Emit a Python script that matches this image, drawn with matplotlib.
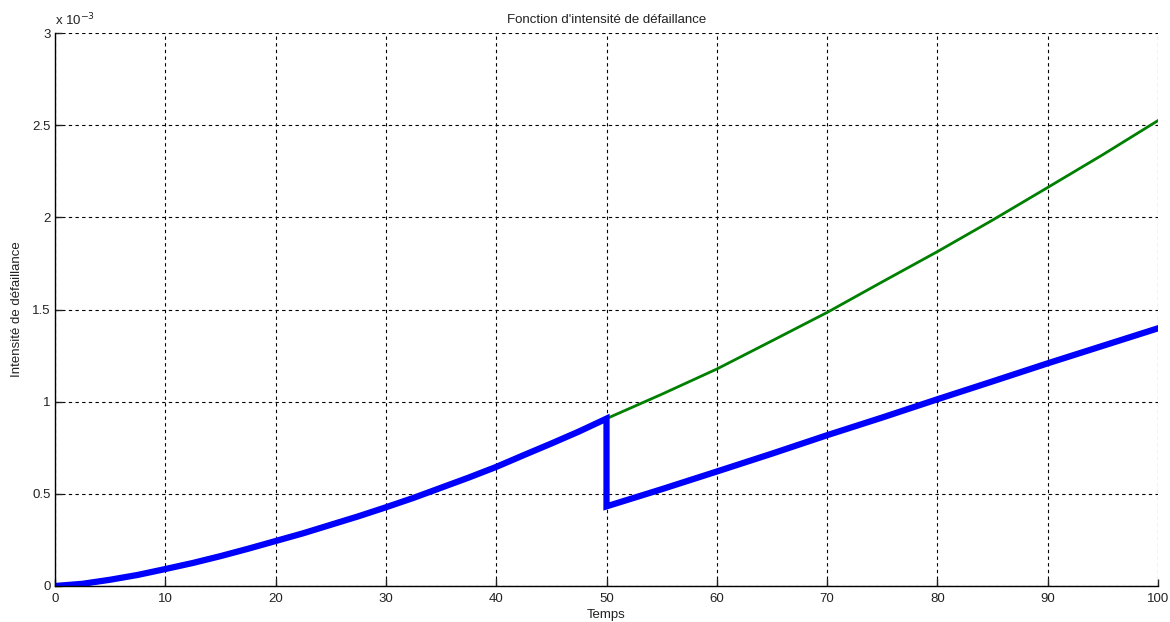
import matplotlib.pyplot as plt
from matplotlib.ticker import FuncFormatter, MultipleLocator

plt.rcParams['font.family'] = ['Liberation Sans', 'DejaVu Sans']

# intensité sans maintenance (courbe verte), en 1e-3
t_full = [0, 2.5, 5, 7.5, 10, 12.5, 15, 17.5, 20, 22.5, 25, 27.5, 30, 32.5,
          35, 37.5, 40, 42.5, 45, 47.5, 50,
          55, 60, 65, 70, 75, 80, 85, 90, 95, 100]
lam_full = [0.0, 0.012, 0.034, 0.06, 0.092, 0.125, 0.162, 0.202, 0.244, 0.286,
            0.332, 0.378, 0.427, 0.478, 0.533, 0.588, 0.646, 0.71, 0.773, 0.838, 0.908,
            1.04, 1.177, 1.33, 1.484, 1.65, 1.814, 1.985, 2.162, 2.34, 2.525]

# intensité avec maintenance à t=50 (courbe bleue)
t_maint = [0, 2.5, 5, 7.5, 10, 12.5, 15, 17.5, 20, 22.5, 25, 27.5, 30, 32.5,
           35, 37.5, 40, 42.5, 45, 47.5, 50,
           50, 55, 60, 65, 70, 75, 80, 85, 90, 95, 100]
lam_maint = [0.0, 0.012, 0.034, 0.06, 0.092, 0.125, 0.162, 0.202, 0.244, 0.286,
             0.332, 0.378, 0.427, 0.478, 0.533, 0.588, 0.646, 0.71, 0.773, 0.838, 0.908,
             0.432, 0.525, 0.621, 0.718, 0.818, 0.914, 1.013, 1.11, 1.208, 1.303, 1.398]

scale = 1e-3

fig = plt.figure(figsize=(11.7, 6.22), dpi=100)
ax = fig.add_axes([55 / 1170, 1 - 586 / 622, 1103 / 1170, 553 / 622])

ax.plot(t_full, [v * scale for v in lam_full], color=(0, 0.5, 0), lw=2.0)
ax.plot(t_maint, [v * scale for v in lam_maint], color=(0, 0, 1), lw=4.5,
        solid_joinstyle='miter')

ax.set_xlim(0, 100)
ax.set_ylim(0, 3e-3)
ax.xaxis.set_major_locator(MultipleLocator(10))
ax.yaxis.set_major_locator(MultipleLocator(0.5e-3))
ax.yaxis.set_major_formatter(FuncFormatter(lambda v, p: f"{v / scale:g}"))

ax.grid(True, color='black', linestyle=(0, (3, 3)), linewidth=0.8)
for s in ['top', 'right']:
    ax.spines[s].set_visible(False)
for s in ['left', 'bottom']:
    ax.spines[s].set_linewidth(1.0)
ax.tick_params(direction='in', length=5, width=1, labelsize=9.5, colors='#222222',
               labelcolor='#222222', pad=3)
ax.tick_params(axis='x', pad=5)

ax.text(0.0, 1.008, r"x 10$^{-3}$", transform=ax.transAxes, fontsize=9.5,
        ha='left', va='bottom', color='#222222')
ax.set_title("Fonction d'intensité de défaillance", fontsize=9.5, pad=7, color='#222222')
ax.set_xlabel("Temps", fontsize=9.5, labelpad=3, color='#222222')
ax.set_ylabel("Intensité de défaillance", fontsize=9.5, labelpad=7, color='#222222')

fig.savefig("out.png", dpi=100, facecolor='white')
